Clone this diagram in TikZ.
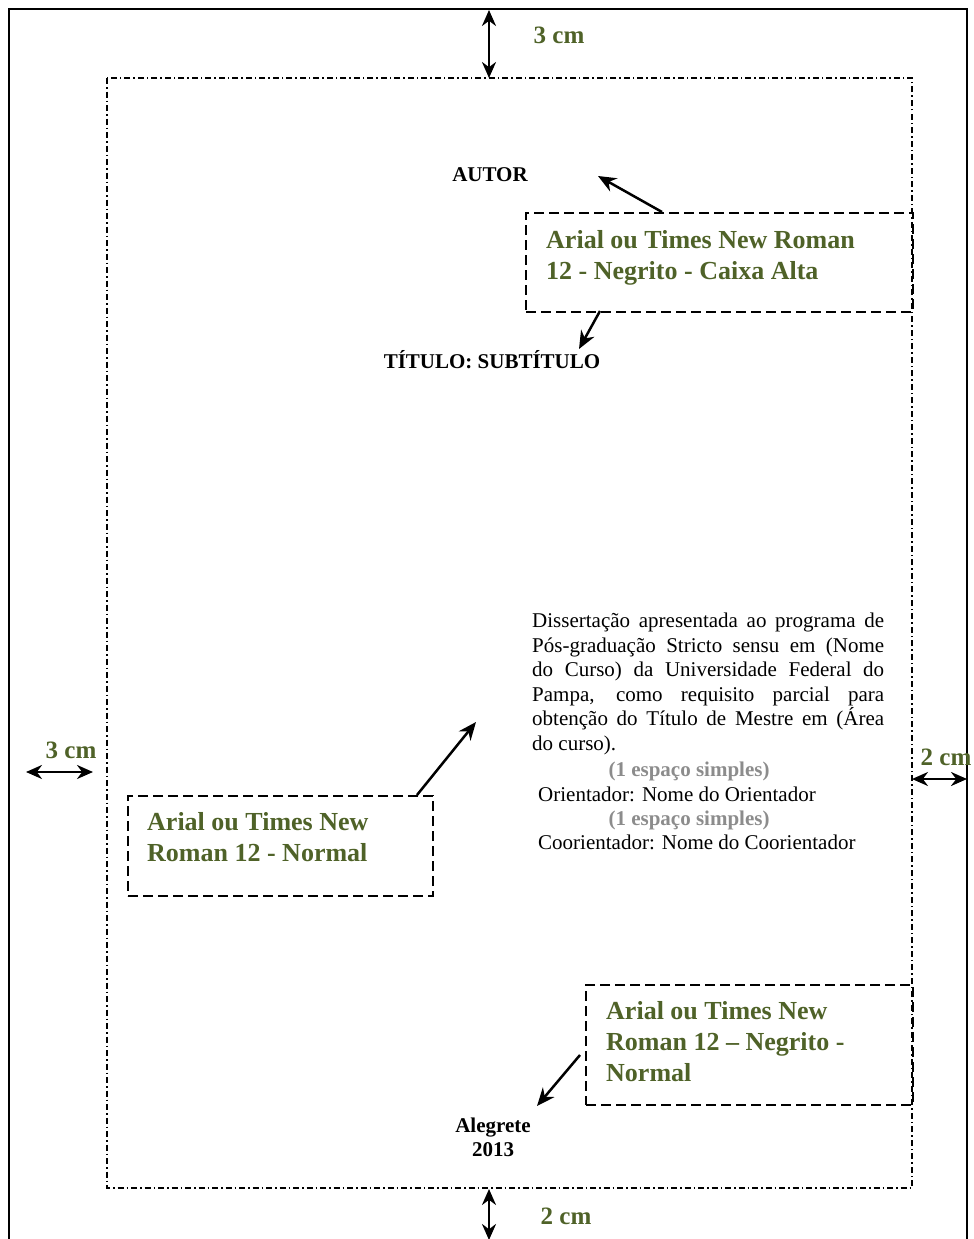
\documentclass[tikz,border=0pt]{standalone}
\usepackage{fontspec}
\setmainfont{Liberation Serif}
\usetikzlibrary{arrows.meta}
\definecolor{olivegreen}{RGB}{79,98,40}
\definecolor{notegray}{RGB}{140,140,140}
\begin{document}
\begin{tikzpicture}[x=1pt,y=-1pt,
  pageframe/.style={draw=black,line width=2pt},
  marginframe/.style={draw=black,line width=1.5pt,dash pattern=on 6pt off 3pt on 1.5pt off 3pt},
  callbox/.style={draw=black,line width=2pt,dash pattern=on 10pt off 5pt,inner sep=0pt,anchor=north west},
  dimarrow/.style={line width=2.5pt,{Stealth[length=16pt,width=14pt]}-{Stealth[length=16pt,width=14pt]}},
  callout/.style={line width=2.5pt,-{Stealth[length=18pt,width=15pt]}},
  dimlabel/.style={text=olivegreen,font=\fontsize{25}{28}\selectfont\bfseries,inner sep=0pt},
  greentext/.style={text=olivegreen,font=\fontsize{26}{31}\selectfont\bfseries,inner sep=0pt,align=left,anchor=north west},
  blacklabel/.style={font=\fontsize{21}{24}\selectfont\bfseries,inner sep=0pt,anchor=base},
  bodytext/.style={font=\fontsize{21}{24.5}\selectfont,inner sep=0pt},
  graynote/.style={text=notegray,font=\fontsize{21}{24.5}\selectfont\bfseries,inner sep=0pt,anchor=base}
]
\useasboundingbox (0,0) rectangle (974,1239);
% page and margins
\coordinate (pg1) at (9,9);
\coordinate (pg2) at (967,1262);
\draw[pageframe] (pg1) rectangle (pg2);
\coordinate (mg1) at (107,78);
\coordinate (mg2) at (912,1188);
\draw[marginframe] (mg1) rectangle (mg2);
% dimension arrows
\coordinate (dt1) at (489,10);
\coordinate (dt2) at (489,78);
\draw[dimarrow] (dt1) -- (dt2);
\node[dimlabel] (ltop) at (559,35) {3 cm};
\coordinate (db1) at (489,1189);
\coordinate (db2) at (489,1240);
\draw[dimarrow] (db1) -- (db2);
\node[dimlabel] (lbot) at (566,1216) {2 cm};
\coordinate (dl1) at (26,772);
\coordinate (dl2) at (93,772);
\draw[dimarrow] (dl1) -- (dl2);
\node[dimlabel] (lleft) at (71,750) {3 cm};
\coordinate (dr1) at (912,779);
\coordinate (dr2) at (967,779);
\draw[dimarrow] (dr1) -- (dr2);
\node[dimlabel] (lright) at (946,757) {2 cm};
% title block
\node[blacklabel] (autor) at (490,181) {AUTOR};
\node[blacklabel] (titulo) at (492,368) {TÍTULO: SUBTÍTULO};
% box 1
\node[callbox,minimum width=387pt,minimum height=99pt] (b1) at (525,212) {};
\node[greentext] (t1) at (546,230) {Arial ou Times New Roman\\12 - Negrito - Caixa Alta};
\coordinate (a1s) at (662,212);
\coordinate (a1e) at (598,176);
\draw[callout] (a1s) -- (a1e);
\coordinate (a2s) at (600,311);
\coordinate (a2e) at (579,349);
\draw[callout] (a2s) -- (a2e);
% paragraph
\node[bodytext,text width=352pt,align=justify,anchor=north west] (par) at (532,613)
 {\hyphenpenalty=10000 Dissertação apresentada ao programa de\linebreak
  Pós-graduação Stricto sensu em (Nome\linebreak
  do Curso) da Universidade Federal do\linebreak
  Pampa, como requisito parcial para\linebreak
  obtenção do Título de Mestre em (Área\linebreak
  do curso).};
\node[graynote] (g1) at (689,776) {(1 espaço simples)};
\node[bodytext,anchor=base west] (ori) at (538,801) {Orientador: Nome do Orientador};
\node[graynote] (g2) at (689,825) {(1 espaço simples)};
\node[bodytext,anchor=base west] (coori) at (538,849) {Coorientador: Nome do Coorientador};
% box 2
\node[callbox,minimum width=305pt,minimum height=100pt] (b2) at (127,795) {};
\node[greentext] (t2) at (147,812) {Arial ou Times New\\Roman 12 - Normal};
\coordinate (a3s) at (417,795);
\coordinate (a3e) at (476,722);
\draw[callout] (a3s) -- (a3e);
% box 3
\node[callbox,minimum width=327pt,minimum height=120pt] (b3) at (585,984) {};
\node[greentext] (t3) at (606,1001) {Arial ou Times New\\Roman 12 -- Negrito -\\Normal};
\coordinate (a4s) at (580,1055);
\coordinate (a4e) at (537,1106);
\draw[callout] (a4s) -- (a4e);
% place and year
\node[blacklabel,align=center,anchor=north,font=\fontsize{21}{24}\selectfont\bfseries] (city) at (493,1118) {Alegrete\\2013};
\end{tikzpicture}
\end{document}
